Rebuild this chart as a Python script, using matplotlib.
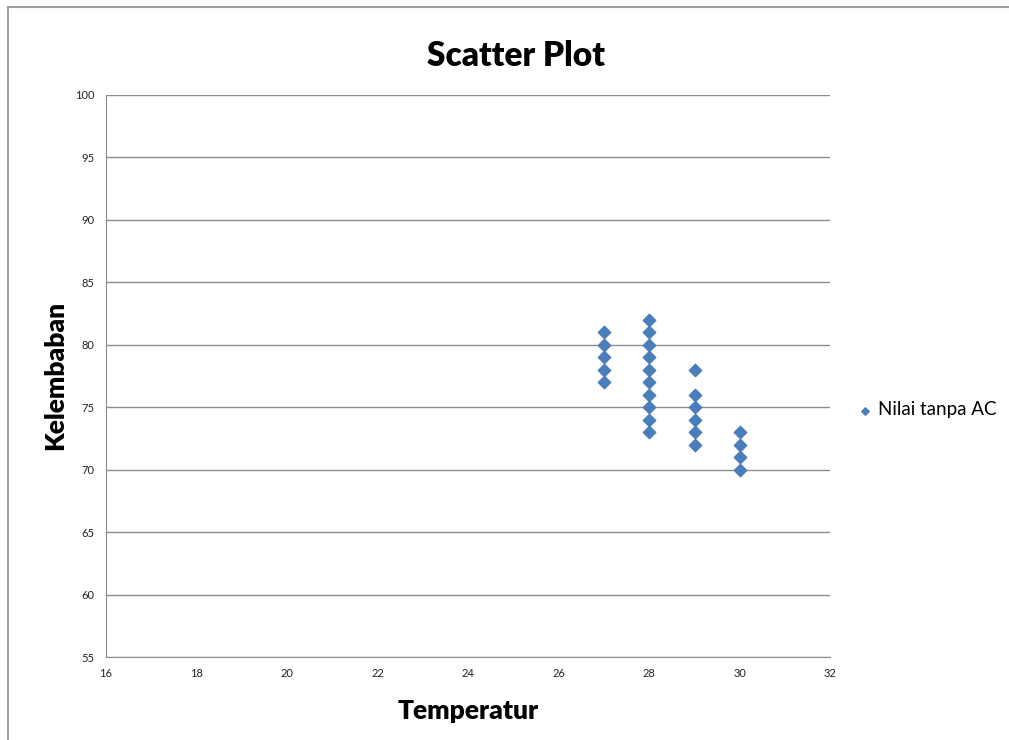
import numpy as np
from matplotlib import pyplot as plt
from matplotlib.patches import Rectangle

# temperature / humidity readings (without AC)
temp_27 = [81, 80, 79, 78, 77]
temp_28 = [82, 81, 80, 79, 78, 77, 76, 75, 74, 73]
temp_29 = [78, 76, 75, 74, 73, 72]
temp_30 = [73, 72, 71, 70]

x = np.array([27]*len(temp_27) + [28]*len(temp_28) + [29]*len(temp_29) + [30]*len(temp_30))
y = np.array(temp_27 + temp_28 + temp_29 + temp_30)

x_ticks = np.arange(16, 33, 2)
y_ticks = np.arange(55, 101, 5)

plt.rcParams['font.family'] = ['Lato', 'DejaVu Sans']

fig = plt.figure(figsize=(10.09, 7.40), dpi=100)
ax = fig.add_axes([0.105, 0.112, 0.718, 0.760])

# outer chart frame
fig.patches.append(Rectangle((0.008, -0.01), 1.0, 1.0, transform=fig.transFigure,
                             fill=False, edgecolor='#a0a0a0', linewidth=1.5))

ax.scatter(x, y, color='#4a7ebb', marker='D', s=40, zorder=3, label='Nilai tanpa AC')

ax.set_xlim(16, 32)
ax.set_ylim(55, 100)
ax.set_xticks(x_ticks)
ax.set_yticks(y_ticks)
ax.tick_params(axis='both', labelsize=8, length=0, pad=8, colors='#222222')
ax.yaxis.grid(True, color='#8c8c8c', linewidth=1)
ax.set_axisbelow(True)
for side in ['top', 'right']:
    ax.spines[side].set_visible(False)
for side in ['left', 'bottom']:
    ax.spines[side].set_color('#8c8c8c')

fig.text(0.511, 0.925, 'Scatter Plot', ha='center', va='center', fontsize=24, fontweight='heavy')
ax.set_xlabel('Temperatur', fontsize=19, fontweight='heavy', labelpad=14)
ax.set_ylabel('Kelembaban', fontsize=19, fontweight='heavy', labelpad=6)

ax.legend(loc='center left', bbox_to_anchor=(0.850, 0.446), bbox_transform=fig.transFigure,
          frameon=False, fontsize=13.5, handlelength=0.8, handletextpad=0.3,
          markerscale=0.6, borderaxespad=0, borderpad=0)

plt.savefig('out.png', dpi=100)
